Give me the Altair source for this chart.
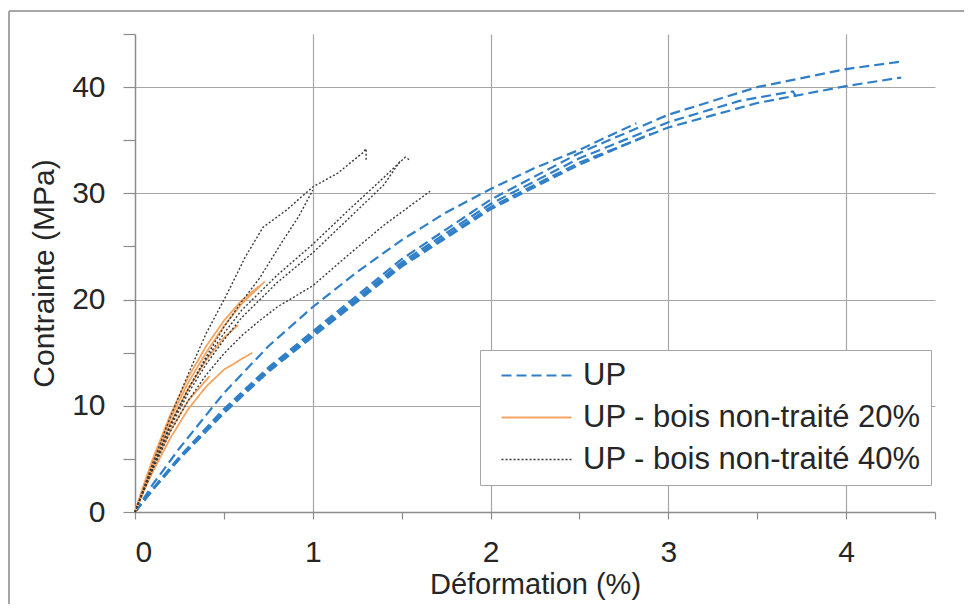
import altair as alt
import pandas as pd

# ---- data ----
SERIES = ["UP", "UP - bois non-traité 20%", "UP - bois non-traité 40%"]

# UP (blue dashed)
up1_x = [0, 0.1, 0.25, 0.5, 0.75, 1.0, 1.25, 1.5, 1.75, 2.0, 2.25, 2.5, 2.82]
up1_y = [0, 2.6, 6.0, 11.2, 15.6, 19.3, 22.6, 25.6, 28.2, 30.4, 32.4, 34.1, 36.6]
up2_x = [0, 0.1, 0.25, 0.5, 0.75, 1.0, 1.5, 2.0, 2.5, 3.0, 3.5, 4.0, 4.31]
up2_y = [0, 2.2, 5.2, 9.7, 13.6, 17.0, 23.8, 29.4, 33.8, 37.4, 40.0, 41.7, 42.4]
up3_x = [0, 0.1, 0.25, 0.5, 0.75, 1.0, 1.5, 2.0, 2.5, 3.0, 3.5, 4.0, 4.31]
up3_y = [0, 2.1, 5.0, 9.4, 13.3, 16.6, 23.3, 28.7, 32.9, 36.2, 38.5, 40.1, 40.9]
up4_x = [0, 0.1, 0.25, 0.5, 0.75, 1.0, 1.5, 2.0, 2.5, 3.0, 3.4, 3.7, 3.72]
up4_y = [0, 2.15, 5.1, 9.5, 13.4, 16.8, 23.5, 29.0, 33.3, 36.7, 38.7, 39.6, 39.1]
up5_x = [0, 0.1, 0.25, 0.5, 0.75, 1.0, 1.5, 2.0, 2.5, 2.9]
up5_y = [0, 2.1, 5.0, 9.3, 13.2, 16.5, 23.1, 28.5, 32.7, 35.6]

# UP - bois non-traité 20% (orange solid)
o1_x = [0, 0.05, 0.1, 0.2, 0.3, 0.4, 0.5, 0.6, 0.73]
o1_y = [0, 2.5, 4.8, 8.8, 12.2, 15.0, 17.5, 19.6, 21.7]
o2_x = [0, 0.05, 0.1, 0.2, 0.3, 0.4, 0.5, 0.58]
o2_y = [0, 2.4, 4.6, 8.4, 11.6, 14.3, 16.4, 17.6]
o3_x = [0, 0.05, 0.1, 0.2, 0.3, 0.4, 0.5, 0.66]
o3_y = [0, 2.0, 3.8, 7.0, 9.7, 11.8, 13.4, 15.0]
o4_x = [0, 0.05, 0.1, 0.2, 0.3, 0.42]
o4_y = [0, 2.2, 4.2, 7.7, 10.5, 12.8]
o5_x = [0, 0.05, 0.1, 0.2, 0.3, 0.4, 0.5, 0.6, 0.7]
o5_y = [0, 2.6, 5.0, 9.2, 12.7, 15.6, 18.0, 19.9, 21.3]

# UP - bois non-traité 40% (dark dotted)
b1_x = [0, 0.1, 0.2, 0.3, 0.4, 0.52, 0.62, 0.72, 0.85, 1.0, 1.14, 1.28, 1.3, 1.3]
b1_y = [0, 4.6, 9.0, 13.0, 16.8, 20.6, 24.0, 26.8, 28.4, 30.6, 31.9, 33.8, 34.2, 33.0]
b2_x = [0, 0.1, 0.2, 0.3, 0.4, 0.5, 0.6, 0.7, 0.83, 0.92, 1.0]
b2_y = [0, 4.2, 8.2, 11.6, 14.6, 17.4, 19.8, 22.0, 25.5, 27.8, 30.3]
b3_x = [0, 0.1, 0.2, 0.3, 0.4, 0.5, 0.6, 0.8, 1.0, 1.2, 1.4, 1.52, 1.55]
b3_y = [0, 4.3, 8.3, 11.6, 14.4, 16.8, 19.0, 22.3, 25.2, 28.4, 31.5, 33.4, 33.1]
b4_x = [0, 0.1, 0.2, 0.3, 0.4, 0.5, 0.6, 0.8, 1.0, 1.2, 1.4, 1.49]
b4_y = [0, 4.2, 8.0, 11.2, 13.9, 16.2, 18.3, 21.6, 24.4, 27.6, 30.8, 33.0]
b5_x = [0, 0.1, 0.2, 0.3, 0.4, 0.5, 0.6, 0.7, 0.8, 1.0, 1.2, 1.4, 1.66]
b5_y = [0, 4.0, 7.6, 10.5, 12.9, 14.9, 16.6, 18.0, 19.3, 21.3, 24.2, 27.0, 30.2]

curves = [
    ("up1", SERIES[0], up1_x, up1_y), ("up2", SERIES[0], up2_x, up2_y),
    ("up3", SERIES[0], up3_x, up3_y), ("up4", SERIES[0], up4_x, up4_y),
    ("up5", SERIES[0], up5_x, up5_y),
    ("o1", SERIES[1], o1_x, o1_y), ("o2", SERIES[1], o2_x, o2_y),
    ("o3", SERIES[1], o3_x, o3_y), ("o4", SERIES[1], o4_x, o4_y),
    ("o5", SERIES[1], o5_x, o5_y),
    ("b1", SERIES[2], b1_x, b1_y), ("b2", SERIES[2], b2_x, b2_y),
    ("b3", SERIES[2], b3_x, b3_y), ("b4", SERIES[2], b4_x, b4_y),
    ("b5", SERIES[2], b5_x, b5_y),
]

rows = []
for cid, ser, xs, ys in curves:
    for i, (xv, yv) in enumerate(zip(xs, ys)):
        rows.append({"curve": cid, "series": ser, "i": i, "x": xv, "y": yv})
df = pd.DataFrame(rows)

x_ticks = [0, 0.5, 1, 1.5, 2, 2.5, 3, 3.5, 4, 4.5]
y_ticks = [0, 5, 10, 15, 20, 25, 30, 35, 40, 45]

FONT = "Liberation Sans"
TXT = "#262626"
GRID = "#A6A6A6"
AXIS = "#8C8C8C"

x_enc = alt.X(
    "x:Q",
    scale=alt.Scale(domain=[0, 4.5], nice=False, zero=False),
    axis=alt.Axis(
        values=x_ticks,
        labelExpr="datum.value % 1 == 0 ? '' + datum.value : ''",
        title="Déformation (%)",
        titleFontSize=29,
        grid=True,
        gridColor=alt.condition("datum.value % 1 == 0 && datum.value > 0",
                                alt.value(GRID), alt.value("transparent")),
        gridWidth=1.2,
        tickSize=7,
        labelPadding=18,
        titlePadding=3,
    ),
)
y_enc = alt.Y(
    "y:Q",
    scale=alt.Scale(domain=[0, 45], nice=False),
    axis=alt.Axis(
        values=y_ticks,
        labelExpr="datum.value % 10 == 0 && datum.value < 45 ? '' + datum.value : ''",
        title="Contrainte (MPa)",
        grid=True,
        gridColor=alt.condition("datum.value % 10 == 0 && datum.value > 0",
                                alt.value(GRID), alt.value("transparent")),
        gridWidth=1.2,
        tickSize=12,
        labelPadding=18,
        titlePadding=12,
    ),
)

legend_cfg = dict(
    title=None, orient="none", legendX=345, legendY=316,
    symbolType="M-3,0H3", symbolSize=544, symbolStrokeWidth=1.5,
    symbolOffset=31, labelOffset=31,
    labelFontSize=31, labelFont=FONT, labelColor=TXT, labelLimit=0,
    strokeColor="#A6A6A6", fillColor="white", padding=10,
    rowPadding=10,
)

lines = alt.Chart(df).mark_line(strokeCap="butt").encode(
    x=x_enc,
    y=y_enc,
    detail="curve:N",
    order=alt.Order("i:Q"),
    color=alt.Color(
        "series:N",
        scale=alt.Scale(domain=SERIES, range=["#2F7FC8", "#F4A460", "#3A3A3A"]),
        legend=alt.Legend(**legend_cfg),
    ),
    strokeDash=alt.StrokeDash(
        "series:N",
        scale=alt.Scale(domain=SERIES, range=[[10, 5], [1, 0], [2, 2]]),
        legend=alt.Legend(**legend_cfg),
    ),
    strokeWidth=alt.StrokeWidth(
        "series:N",
        scale=alt.Scale(domain=SERIES, range=[2.2, 1.4, 1.6]),
        legend=None,
    ),
)

frame_df = pd.DataFrame({"k": [0]})
frame_top = alt.Chart(frame_df).mark_rule(color="#A6A6A6", strokeWidth=2).encode(
    x=alt.value(-126), x2=alt.value(829), y=alt.value(-23)
)
frame_left = alt.Chart(frame_df).mark_rule(color="#A6A6A6", strokeWidth=2).encode(
    x=alt.value(-126), y=alt.value(-23), y2=alt.value(570)
)

chart = alt.layer(frame_top, frame_left, lines).properties(
    width=800,
    height=478,
    autosize=alt.AutoSizeParams(type="none"),
    padding={"left": 127, "top": 26, "right": 30, "bottom": 92},
    background="white",
).configure_view(stroke=None).configure_axis(
    labelFont=FONT, titleFont=FONT, labelFontSize=30, titleFontSize=30,
    labelColor=TXT, titleColor=TXT, titleFontWeight="normal",
    domainColor=AXIS, domainWidth=1.5, tickColor=AXIS, tickWidth=1.2,
)

chart.save("out.html", embed_options={"renderer": "svg", "actions": False})
